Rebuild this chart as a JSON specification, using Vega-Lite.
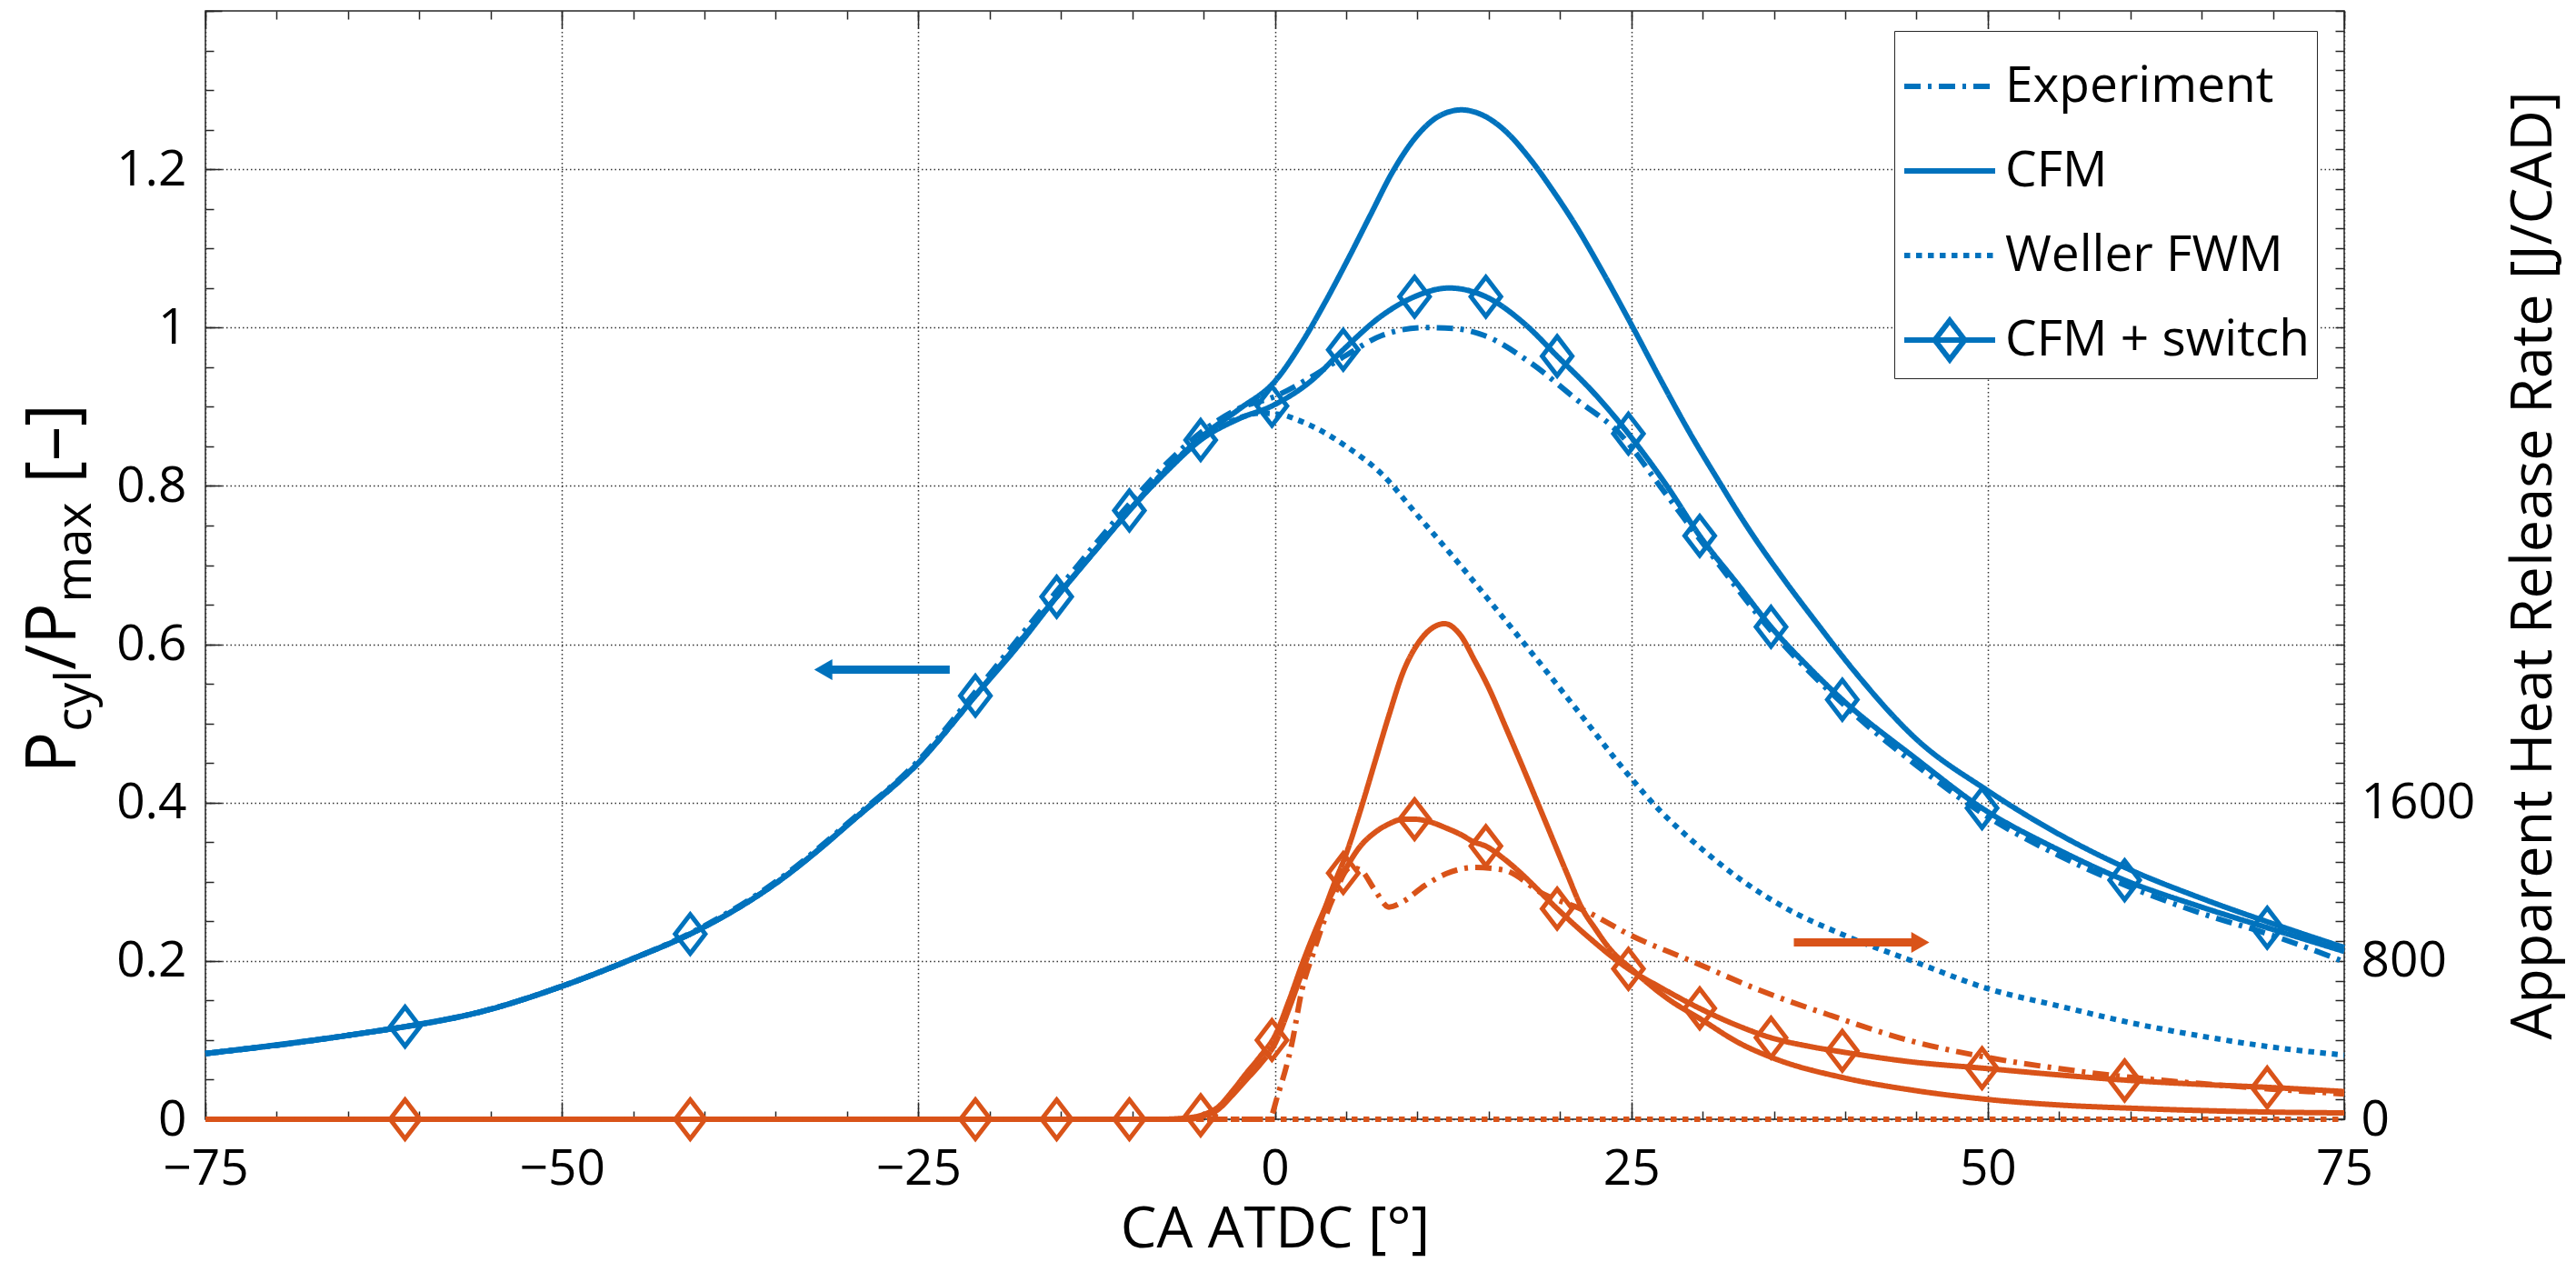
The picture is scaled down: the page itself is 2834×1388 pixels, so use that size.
{
  "$schema": "https://vega.github.io/schema/vega-lite/v6.json",
  "width": 2353,
  "height": 1219,
  "autosize": "none",
  "padding": {"left": 226, "top": 12, "right": 255, "bottom": 157},
  "background": "white",
  "config": {
    "font": "Open Sans",
    "view": {"stroke": "#262626", "strokeWidth": 1.5},
    "axis": {
      "domain": false, "tickColor": "#262626", "tickWidth": 1.5,
      "labelFont": "Open Sans", "labelFontSize": 55, "labelColor": "#000000",
      "labelOverlap": false, "labelFlush": false,
      "titleFont": "Open Sans", "titleFontSize": 63, "titleFontWeight": "normal", "titleColor": "#000000",
      "gridColor": "#333333", "gridDash": [1.5, 3], "gridWidth": 1.5
    }
  },
  "datasets": {
    "pr": [
      {"s": "CFM + switch", "ca": -75, "p": 0.083}, {"s": "CFM + switch", "ca": -70, "p": 0.094}, {"s": "CFM + switch", "ca": -65, "p": 0.106}, {"s": "CFM + switch", "ca": -61, "p": 0.117}, {"s": "CFM + switch", "ca": -55, "p": 0.139}, {"s": "CFM + switch", "ca": -50, "p": 0.168}, {"s": "CFM + switch", "ca": -45, "p": 0.203}, {"s": "CFM + switch", "ca": -41, "p": 0.234}, {"s": "CFM + switch", "ca": -38, "p": 0.263}, {"s": "CFM + switch", "ca": -35, "p": 0.298}, {"s": "CFM + switch", "ca": -32, "p": 0.34}, {"s": "CFM + switch", "ca": -29.5, "p": 0.379}, {"s": "CFM + switch", "ca": -27, "p": 0.418}, {"s": "CFM + switch", "ca": -25, "p": 0.45}, {"s": "CFM + switch", "ca": -23, "p": 0.492}, {"s": "CFM + switch", "ca": -21, "p": 0.535}, {"s": "CFM + switch", "ca": -18, "p": 0.598}, {"s": "CFM + switch", "ca": -15.3, "p": 0.66}, {"s": "CFM + switch", "ca": -12.5, "p": 0.72}, {"s": "CFM + switch", "ca": -10.2, "p": 0.769}, {"s": "CFM + switch", "ca": -7.5, "p": 0.82}, {"s": "CFM + switch", "ca": -5.2, "p": 0.858}, {"s": "CFM + switch", "ca": -2.5, "p": 0.885}, {"s": "CFM + switch", "ca": -0.2, "p": 0.901}, {"s": "CFM + switch", "ca": 2.5, "p": 0.932}, {"s": "CFM + switch", "ca": 4.8, "p": 0.972}, {"s": "CFM + switch", "ca": 7.5, "p": 1.015}, {"s": "CFM + switch", "ca": 9.8, "p": 1.039}, {"s": "CFM + switch", "ca": 12.2, "p": 1.05}, {"s": "CFM + switch", "ca": 14.8, "p": 1.039}, {"s": "CFM + switch", "ca": 17.5, "p": 1.005}, {"s": "CFM + switch", "ca": 19.8, "p": 0.964}, {"s": "CFM + switch", "ca": 22.5, "p": 0.915}, {"s": "CFM + switch", "ca": 24.8, "p": 0.866}, {"s": "CFM + switch", "ca": 27.5, "p": 0.8}, {"s": "CFM + switch", "ca": 29.8, "p": 0.737}, {"s": "CFM + switch", "ca": 32.5, "p": 0.675}, {"s": "CFM + switch", "ca": 34.8, "p": 0.622}, {"s": "CFM + switch", "ca": 37.5, "p": 0.57}, {"s": "CFM + switch", "ca": 39.8, "p": 0.53}, {"s": "CFM + switch", "ca": 45, "p": 0.455}, {"s": "CFM + switch", "ca": 49.6, "p": 0.393}, {"s": "CFM + switch", "ca": 55, "p": 0.34}, {"s": "CFM + switch", "ca": 59.6, "p": 0.302}, {"s": "CFM + switch", "ca": 65, "p": 0.268}, {"s": "CFM + switch", "ca": 69.6, "p": 0.242}, {"s": "CFM + switch", "ca": 75, "p": 0.212},
      {"s": "CFM", "ca": -75, "p": 0.083}, {"s": "CFM", "ca": -65, "p": 0.106}, {"s": "CFM", "ca": -55, "p": 0.139}, {"s": "CFM", "ca": -50, "p": 0.168}, {"s": "CFM", "ca": -45, "p": 0.203}, {"s": "CFM", "ca": -41, "p": 0.234}, {"s": "CFM", "ca": -35, "p": 0.298}, {"s": "CFM", "ca": -29.5, "p": 0.379}, {"s": "CFM", "ca": -25, "p": 0.45}, {"s": "CFM", "ca": -21, "p": 0.535}, {"s": "CFM", "ca": -15.3, "p": 0.66}, {"s": "CFM", "ca": -10.2, "p": 0.769}, {"s": "CFM", "ca": -7.5, "p": 0.822}, {"s": "CFM", "ca": -5, "p": 0.864}, {"s": "CFM", "ca": -2.5, "p": 0.897}, {"s": "CFM", "ca": 0, "p": 0.932}, {"s": "CFM", "ca": 2, "p": 0.984}, {"s": "CFM", "ca": 3.5, "p": 1.031}, {"s": "CFM", "ca": 5.15, "p": 1.087}, {"s": "CFM", "ca": 6.7, "p": 1.142}, {"s": "CFM", "ca": 8.3, "p": 1.198}, {"s": "CFM", "ca": 10, "p": 1.243}, {"s": "CFM", "ca": 11.5, "p": 1.267}, {"s": "CFM", "ca": 13.1, "p": 1.275}, {"s": "CFM", "ca": 14.5, "p": 1.269}, {"s": "CFM", "ca": 16, "p": 1.251}, {"s": "CFM", "ca": 17.9, "p": 1.213}, {"s": "CFM", "ca": 19.5, "p": 1.173}, {"s": "CFM", "ca": 21.1, "p": 1.129}, {"s": "CFM", "ca": 23, "p": 1.07}, {"s": "CFM", "ca": 25, "p": 1.004}, {"s": "CFM", "ca": 27, "p": 0.936}, {"s": "CFM", "ca": 29.2, "p": 0.864}, {"s": "CFM", "ca": 31, "p": 0.81}, {"s": "CFM", "ca": 33, "p": 0.752}, {"s": "CFM", "ca": 35.7, "p": 0.682}, {"s": "CFM", "ca": 38, "p": 0.627}, {"s": "CFM", "ca": 40.6, "p": 0.567}, {"s": "CFM", "ca": 45, "p": 0.48}, {"s": "CFM", "ca": 50, "p": 0.415}, {"s": "CFM", "ca": 55, "p": 0.36}, {"s": "CFM", "ca": 60, "p": 0.315}, {"s": "CFM", "ca": 65, "p": 0.279}, {"s": "CFM", "ca": 70, "p": 0.247}, {"s": "CFM", "ca": 75, "p": 0.217},
      {"s": "Experiment", "ca": -75, "p": 0.083}, {"s": "Experiment", "ca": -65, "p": 0.106}, {"s": "Experiment", "ca": -55, "p": 0.139}, {"s": "Experiment", "ca": -50, "p": 0.168}, {"s": "Experiment", "ca": -45, "p": 0.203}, {"s": "Experiment", "ca": -41, "p": 0.235}, {"s": "Experiment", "ca": -35, "p": 0.3}, {"s": "Experiment", "ca": -29.5, "p": 0.381}, {"s": "Experiment", "ca": -25, "p": 0.453}, {"s": "Experiment", "ca": -21, "p": 0.54}, {"s": "Experiment", "ca": -15.3, "p": 0.667}, {"s": "Experiment", "ca": -10.2, "p": 0.777}, {"s": "Experiment", "ca": -7.5, "p": 0.83}, {"s": "Experiment", "ca": -5, "p": 0.87}, {"s": "Experiment", "ca": -2.5, "p": 0.898}, {"s": "Experiment", "ca": 0, "p": 0.913}, {"s": "Experiment", "ca": 2.5, "p": 0.937}, {"s": "Experiment", "ca": 5, "p": 0.965}, {"s": "Experiment", "ca": 7.5, "p": 0.99}, {"s": "Experiment", "ca": 10.5, "p": 1.0}, {"s": "Experiment", "ca": 12.5, "p": 0.999}, {"s": "Experiment", "ca": 14.7, "p": 0.99}, {"s": "Experiment", "ca": 17.9, "p": 0.956}, {"s": "Experiment", "ca": 21.1, "p": 0.91}, {"s": "Experiment", "ca": 24.3, "p": 0.864}, {"s": "Experiment", "ca": 27, "p": 0.8}, {"s": "Experiment", "ca": 30, "p": 0.728}, {"s": "Experiment", "ca": 35, "p": 0.613}, {"s": "Experiment", "ca": 40, "p": 0.522}, {"s": "Experiment", "ca": 45, "p": 0.447}, {"s": "Experiment", "ca": 50, "p": 0.382}, {"s": "Experiment", "ca": 55, "p": 0.333}, {"s": "Experiment", "ca": 60, "p": 0.293}, {"s": "Experiment", "ca": 65, "p": 0.26}, {"s": "Experiment", "ca": 70, "p": 0.232}, {"s": "Experiment", "ca": 75, "p": 0.199},
      {"s": "Weller FWM", "ca": -75, "p": 0.083}, {"s": "Weller FWM", "ca": -65, "p": 0.106}, {"s": "Weller FWM", "ca": -55, "p": 0.139}, {"s": "Weller FWM", "ca": -50, "p": 0.168}, {"s": "Weller FWM", "ca": -45, "p": 0.203}, {"s": "Weller FWM", "ca": -41, "p": 0.234}, {"s": "Weller FWM", "ca": -35, "p": 0.298}, {"s": "Weller FWM", "ca": -29.5, "p": 0.379}, {"s": "Weller FWM", "ca": -25, "p": 0.45}, {"s": "Weller FWM", "ca": -21, "p": 0.535}, {"s": "Weller FWM", "ca": -15.3, "p": 0.66}, {"s": "Weller FWM", "ca": -10.2, "p": 0.769}, {"s": "Weller FWM", "ca": -7.5, "p": 0.823}, {"s": "Weller FWM", "ca": -5, "p": 0.862}, {"s": "Weller FWM", "ca": -3, "p": 0.882}, {"s": "Weller FWM", "ca": -1, "p": 0.892}, {"s": "Weller FWM", "ca": 0.5, "p": 0.89}, {"s": "Weller FWM", "ca": 1.5, "p": 0.884}, {"s": "Weller FWM", "ca": 3, "p": 0.872}, {"s": "Weller FWM", "ca": 5, "p": 0.85}, {"s": "Weller FWM", "ca": 7.5, "p": 0.815}, {"s": "Weller FWM", "ca": 10, "p": 0.763}, {"s": "Weller FWM", "ca": 13, "p": 0.7}, {"s": "Weller FWM", "ca": 15.5, "p": 0.645}, {"s": "Weller FWM", "ca": 18.2, "p": 0.585}, {"s": "Weller FWM", "ca": 21.5, "p": 0.51}, {"s": "Weller FWM", "ca": 24.7, "p": 0.437}, {"s": "Weller FWM", "ca": 27, "p": 0.39}, {"s": "Weller FWM", "ca": 29.2, "p": 0.353}, {"s": "Weller FWM", "ca": 32.5, "p": 0.305}, {"s": "Weller FWM", "ca": 35.7, "p": 0.268}, {"s": "Weller FWM", "ca": 40, "p": 0.232}, {"s": "Weller FWM", "ca": 45, "p": 0.198}, {"s": "Weller FWM", "ca": 50, "p": 0.165}, {"s": "Weller FWM", "ca": 55, "p": 0.143}, {"s": "Weller FWM", "ca": 60, "p": 0.122}, {"s": "Weller FWM", "ca": 65, "p": 0.105}, {"s": "Weller FWM", "ca": 70, "p": 0.091}, {"s": "Weller FWM", "ca": 75, "p": 0.081}
    ],
    "hr": [
      {"s": "Experiment", "ca": -75, "q": 0}, {"s": "Experiment", "ca": -0.4, "q": 0}, {"s": "Experiment", "ca": 0.2, "q": 120}, {"s": "Experiment", "ca": 1.2, "q": 384}, {"s": "Experiment", "ca": 1.9, "q": 652}, {"s": "Experiment", "ca": 2.7, "q": 840}, {"s": "Experiment", "ca": 4.1, "q": 1120}, {"s": "Experiment", "ca": 5.3, "q": 1272}, {"s": "Experiment", "ca": 6, "q": 1260}, {"s": "Experiment", "ca": 7, "q": 1160}, {"s": "Experiment", "ca": 8, "q": 1072}, {"s": "Experiment", "ca": 9, "q": 1100}, {"s": "Experiment", "ca": 10.5, "q": 1180}, {"s": "Experiment", "ca": 12, "q": 1240}, {"s": "Experiment", "ca": 14, "q": 1272}, {"s": "Experiment", "ca": 16, "q": 1260}, {"s": "Experiment", "ca": 18.8, "q": 1140}, {"s": "Experiment", "ca": 21.8, "q": 1052}, {"s": "Experiment", "ca": 25, "q": 928}, {"s": "Experiment", "ca": 29.2, "q": 800}, {"s": "Experiment", "ca": 34, "q": 652}, {"s": "Experiment", "ca": 39, "q": 524}, {"s": "Experiment", "ca": 44.4, "q": 400}, {"s": "Experiment", "ca": 50, "q": 312}, {"s": "Experiment", "ca": 55, "q": 256}, {"s": "Experiment", "ca": 60, "q": 212}, {"s": "Experiment", "ca": 65, "q": 180}, {"s": "Experiment", "ca": 70, "q": 152}, {"s": "Experiment", "ca": 75, "q": 128},
      {"s": "CFM", "ca": -75, "q": 0}, {"s": "CFM", "ca": -6, "q": 0}, {"s": "CFM", "ca": -5, "q": 16}, {"s": "CFM", "ca": -4, "q": 48}, {"s": "CFM", "ca": -3, "q": 120}, {"s": "CFM", "ca": -2, "q": 200}, {"s": "CFM", "ca": -1, "q": 280}, {"s": "CFM", "ca": 0, "q": 380}, {"s": "CFM", "ca": 1, "q": 560}, {"s": "CFM", "ca": 2, "q": 760}, {"s": "CFM", "ca": 3, "q": 960}, {"s": "CFM", "ca": 4, "q": 1160}, {"s": "CFM", "ca": 5, "q": 1340}, {"s": "CFM", "ca": 6, "q": 1560}, {"s": "CFM", "ca": 7, "q": 1800}, {"s": "CFM", "ca": 8, "q": 2040}, {"s": "CFM", "ca": 9, "q": 2260}, {"s": "CFM", "ca": 10, "q": 2400}, {"s": "CFM", "ca": 11, "q": 2480}, {"s": "CFM", "ca": 11.9, "q": 2504}, {"s": "CFM", "ca": 13, "q": 2448}, {"s": "CFM", "ca": 14, "q": 2320}, {"s": "CFM", "ca": 15, "q": 2180}, {"s": "CFM", "ca": 16.2, "q": 1980}, {"s": "CFM", "ca": 17.5, "q": 1760}, {"s": "CFM", "ca": 19, "q": 1500}, {"s": "CFM", "ca": 20.5, "q": 1240}, {"s": "CFM", "ca": 21.5, "q": 1072}, {"s": "CFM", "ca": 22.5, "q": 960}, {"s": "CFM", "ca": 23.5, "q": 860}, {"s": "CFM", "ca": 25, "q": 760}, {"s": "CFM", "ca": 27.5, "q": 612}, {"s": "CFM", "ca": 30, "q": 500}, {"s": "CFM", "ca": 32.5, "q": 388}, {"s": "CFM", "ca": 35, "q": 308}, {"s": "CFM", "ca": 40, "q": 208}, {"s": "CFM", "ca": 45, "q": 144}, {"s": "CFM", "ca": 50, "q": 100}, {"s": "CFM", "ca": 55, "q": 72}, {"s": "CFM", "ca": 60, "q": 56}, {"s": "CFM", "ca": 65, "q": 44}, {"s": "CFM", "ca": 70, "q": 36}, {"s": "CFM", "ca": 75, "q": 32},
      {"s": "CFM + switch", "ca": -75, "q": 0}, {"s": "CFM + switch", "ca": -8, "q": 0}, {"s": "CFM + switch", "ca": -6, "q": 8}, {"s": "CFM + switch", "ca": -5, "q": 24}, {"s": "CFM + switch", "ca": -4, "q": 60}, {"s": "CFM + switch", "ca": -3, "q": 140}, {"s": "CFM + switch", "ca": -2, "q": 232}, {"s": "CFM + switch", "ca": -1, "q": 320}, {"s": "CFM + switch", "ca": 0, "q": 420}, {"s": "CFM + switch", "ca": 1, "q": 600}, {"s": "CFM + switch", "ca": 2, "q": 800}, {"s": "CFM + switch", "ca": 3, "q": 980}, {"s": "CFM + switch", "ca": 4, "q": 1140}, {"s": "CFM + switch", "ca": 4.8, "q": 1244}, {"s": "CFM + switch", "ca": 6, "q": 1380}, {"s": "CFM + switch", "ca": 7, "q": 1448}, {"s": "CFM + switch", "ca": 8, "q": 1492}, {"s": "CFM + switch", "ca": 9, "q": 1516}, {"s": "CFM + switch", "ca": 9.8, "q": 1516}, {"s": "CFM + switch", "ca": 11, "q": 1500}, {"s": "CFM + switch", "ca": 12, "q": 1472}, {"s": "CFM + switch", "ca": 13, "q": 1440}, {"s": "CFM + switch", "ca": 14, "q": 1400}, {"s": "CFM + switch", "ca": 14.8, "q": 1380}, {"s": "CFM + switch", "ca": 16, "q": 1320}, {"s": "CFM + switch", "ca": 17, "q": 1260}, {"s": "CFM + switch", "ca": 18, "q": 1192}, {"s": "CFM + switch", "ca": 19, "q": 1120}, {"s": "CFM + switch", "ca": 19.8, "q": 1064}, {"s": "CFM + switch", "ca": 22, "q": 920}, {"s": "CFM + switch", "ca": 24.8, "q": 760}, {"s": "CFM + switch", "ca": 27, "q": 668}, {"s": "CFM + switch", "ca": 29.8, "q": 560}, {"s": "CFM + switch", "ca": 32.5, "q": 472}, {"s": "CFM + switch", "ca": 34.8, "q": 412}, {"s": "CFM + switch", "ca": 37.5, "q": 368}, {"s": "CFM + switch", "ca": 39.8, "q": 340}, {"s": "CFM + switch", "ca": 44.4, "q": 292}, {"s": "CFM + switch", "ca": 50, "q": 256}, {"s": "CFM + switch", "ca": 55, "q": 224}, {"s": "CFM + switch", "ca": 60, "q": 196}, {"s": "CFM + switch", "ca": 65, "q": 176}, {"s": "CFM + switch", "ca": 70, "q": 160}, {"s": "CFM + switch", "ca": 75, "q": 140},
      {"s": "Weller FWM", "ca": -75, "q": 0}, {"s": "Weller FWM", "ca": 75, "q": 0}
    ],
    "mk": [
      {"ca": -61, "p": 0.117, "q": 0}, {"ca": -41, "p": 0.234, "q": 0}, {"ca": -21, "p": 0.535, "q": 0}, {"ca": -15.3, "p": 0.66, "q": 0}, {"ca": -10.2, "p": 0.769, "q": 0}, {"ca": -5.2, "p": 0.858, "q": 20}, {"ca": -0.2, "p": 0.901, "q": 400}, {"ca": 4.8, "p": 0.972, "q": 1244}, {"ca": 9.8, "p": 1.039, "q": 1516}, {"ca": 14.8, "p": 1.039, "q": 1380}, {"ca": 19.8, "p": 0.964, "q": 1064}, {"ca": 24.8, "p": 0.866, "q": 760}, {"ca": 29.8, "p": 0.737, "q": 560}, {"ca": 34.8, "p": 0.622, "q": 412}, {"ca": 39.8, "p": 0.53, "q": 346}, {"ca": 49.6, "p": 0.393, "q": 258}, {"ca": 59.6, "p": 0.302, "q": 196}, {"ca": 69.6, "p": 0.242, "q": 160}
    ],
    "arrows": [
      {"side": "p", "start": -22.8, "end": -31.67, "head": -31.67, "level": 0.568},
      {"side": "q", "start": 36.4, "end": 45.27, "head": 45.27, "level": 894}
    ],
    "anchor": [{"ca": 0, "v": 0}]
  },
  "layer": [
    {
      "layer": [
        {
          "data": {"name": "pr"},
          "mark": {"type": "line", "color": "#0072BD", "strokeWidth": 6, "interpolate": "monotone"},
          "encoding": {
            "x": {"field": "ca", "type": "quantitative", "scale": {"domain": [-75, 75], "nice": false},
              "axis": {"orient": "bottom", "title": "CA ATDC [°]", "titlePadding": 8, "labelPadding": 28, "tickSize": 0,
                "values": [-75, -50, -25, 0, 25, 50, 75], "labelExpr": "format(datum.value, 'd')", "grid": true}},
            "y": {"field": "p", "type": "quantitative", "scale": {"domain": [0, 1.4], "nice": false},
              "axis": {"orient": "left", "title": null, "labelPadding": 21, "tickSize": 0,
                "values": [0, 0.2, 0.4, 0.6, 0.8, 1, 1.2],
                "labelExpr": "format(datum.value, '~g')", "grid": true}},
            "strokeDash": {"field": "s", "type": "nominal",
              "scale": {"domain": ["Experiment", "CFM", "Weller FWM", "CFM + switch"], "range": [[18, 8, 4, 8], [1, 0], [6.5, 6.5], [1, 0]]},
              "legend": {"title": null, "orient": "none", "legendX": 1858, "legendY": 22,
                "strokeColor": "#262626", "fillColor": "white", "padding": 8, "rowPadding": 12,
                "symbolType": "stroke", "symbolSize": 10000, "symbolStrokeWidth": 6, "symbolStrokeColor": "#0072BD",
                "labelFont": "Open Sans", "labelFontSize": 55, "labelColor": "#000000", "labelLimit": 0, "labelOffset": 8,
                "encode": {"symbols": {"update": {
                  "shape": {"signal": "datum.value === 'CFM + switch' ? 'M-1,0L1,0M0,-0.43L0.33,0L0,0.43L-0.33,0Z' : 'stroke'"},
                  "stroke": {"value": "#0072BD"}, "strokeWidth": {"value": 6}, "fill": {"value": "transparent"}}}}}}
          }
        },
        {
          "data": {"name": "mk"},
          "mark": {"type": "point", "shape": "M0,-1L0.767,0L0,1L-0.767,0Z", "size": 1849, "strokeWidth": 5, "color": "#0072BD", "filled": false, "opacity": 1},
          "encoding": {"x": {"field": "ca", "type": "quantitative"}, "y": {"field": "p", "type": "quantitative"}}
        },
        {
          "data": {"name": "arrows"},
          "transform": [{"filter": "datum.side === 'p'"}],
          "mark": {"type": "rule", "color": "#0072BD", "strokeWidth": 9},
          "encoding": {"x": {"field": "start", "type": "quantitative"}, "x2": {"field": "end"}, "y": {"field": "level", "type": "quantitative"}}
        },
        {
          "data": {"name": "arrows"},
          "transform": [{"filter": "datum.side === 'p'"}],
          "mark": {"type": "point", "shape": "triangle-left", "size": 529, "color": "#0072BD", "filled": true, "opacity": 1},
          "encoding": {"x": {"field": "head", "type": "quantitative"}, "y": {"field": "level", "type": "quantitative"}}
        }
      ]
    },
    {
      "layer": [
        {
          "data": {"name": "hr"},
          "mark": {"type": "line", "color": "#D95319", "strokeWidth": 6, "interpolate": "monotone"},
          "encoding": {
            "x": {"field": "ca", "type": "quantitative", "scale": {"domain": [-75, 75], "nice": false},
              "axis": {"orient": "top", "title": null, "labels": false, "grid": false, "tickSize": -9,
                "values": [-75,-70,-65,-60,-55,-50,-45,-40,-35,-30,-25,-20,-15,-10,-5,0,5,10,15,20,25,30,35,40,45,50,55,60,65,70,75]}},
            "y": {"field": "q", "type": "quantitative", "scale": {"domain": [0, 5600], "nice": false},
              "axis": {"orient": "right", "title": "Apparent Heat Release Rate [J/CAD]", "titleAngle": 270, "titleBaseline": "top", "titlePadding": 34, "labelPadding": 18, "tickSize": 0,
                "grid": false, "values": [0, 800, 1600], "labelExpr": "format(datum.value, 'd')"}},
            "strokeDash": {"field": "s", "type": "nominal"}
          }
        },
        {
          "data": {"name": "mk"},
          "mark": {"type": "point", "shape": "M0,-1L0.767,0L0,1L-0.767,0Z", "size": 1849, "strokeWidth": 5, "color": "#D95319", "filled": false, "opacity": 1},
          "encoding": {"x": {"field": "ca", "type": "quantitative"}, "y": {"field": "q", "type": "quantitative"}}
        },
        {
          "data": {"name": "arrows"},
          "transform": [{"filter": "datum.side === 'q'"}],
          "mark": {"type": "rule", "color": "#D95319", "strokeWidth": 9},
          "encoding": {"x": {"field": "start", "type": "quantitative"}, "x2": {"field": "end"}, "y": {"field": "level", "type": "quantitative"}}
        },
        {
          "data": {"name": "arrows"},
          "transform": [{"filter": "datum.side === 'q'"}],
          "mark": {"type": "point", "shape": "triangle-right", "size": 529, "color": "#D95319", "filled": true, "opacity": 1},
          "encoding": {"x": {"field": "head", "type": "quantitative"}, "y": {"field": "level", "type": "quantitative"}}
        }
      ]
    },
    {
      "data": {"name": "anchor"},
      "mark": {"type": "point", "opacity": 0},
      "encoding": {
        "x": {"field": "ca", "type": "quantitative", "scale": {"domain": [-75, 75], "nice": false},
          "axis": {"orient": "bottom", "labels": false, "grid": false, "tickSize": -9,
            "title": "/P", "titleFontSize": 76, "titleAngle": 270, "titleAlign": "left", "titleBaseline": "alphabetic", "titleX": -144, "titleY": -494.7,
            "values": [-75,-70,-65,-60,-55,-50,-45,-40,-35,-30,-25,-20,-15,-10,-5,0,5,10,15,20,25,30,35,40,45,50,55,60,65,70,75]}},
        "y": {"field": "v", "type": "quantitative", "scale": {"domain": [0, 1.4], "nice": false},
          "axis": {"orient": "left", "labels": false, "grid": false, "tickSize": -9,
            "title": "P", "titleFontSize": 76, "titleAngle": 270, "titleAlign": "left", "titleBaseline": "alphabetic", "titleX": -144, "titleY": 838,
            "values": [0,0.05,0.1,0.15,0.2,0.25,0.3,0.35,0.4,0.45,0.5,0.55,0.6,0.65,0.7,0.75,0.8,0.85,0.9,0.95,1,1.05,1.1,1.15,1.2,1.25,1.3,1.35,1.4]}}
      }
    },
    {
      "data": {"name": "anchor"},
      "mark": {"type": "point", "opacity": 0},
      "encoding": {
        "x": {"field": "ca", "type": "quantitative", "scale": {"domain": [-75, 75], "nice": false},
          "axis": {"orient": "bottom", "labels": false, "grid": false, "tickSize": -19,
            "title": "max", "titleFontSize": 55, "titleAngle": 270, "titleAlign": "left", "titleBaseline": "alphabetic", "titleX": -127, "titleY": -568.7,
            "values": [-75, -50, -25, 0, 25, 50, 75]}},
        "y": {"field": "v", "type": "quantitative", "scale": {"domain": [0, 1.4], "nice": false},
          "axis": {"orient": "left", "labels": false, "grid": false, "tickSize": -18,
            "title": "cyl", "titleFontSize": 55, "titleAngle": 270, "titleAlign": "left", "titleBaseline": "alphabetic", "titleX": -127, "titleY": 792.2,
            "values": [0, 0.2, 0.4, 0.6, 0.8, 1, 1.2, 1.4]}}
      }
    },
    {
      "data": {"name": "anchor"},
      "mark": {"type": "point", "opacity": 0},
      "encoding": {
        "x": {"field": "ca", "type": "quantitative", "scale": {"domain": [-75, 75], "nice": false},
          "axis": {"orient": "top", "labels": false, "grid": false, "tickSize": -19,
            "title": "[–]", "titleFontSize": 76, "titleAngle": 270, "titleAlign": "left", "titleBaseline": "alphabetic", "titleX": -144, "titleY": 519.3,
            "values": [-75, -50, -25, 0, 25, 50, 75]}},
        "y": {"field": "v", "type": "quantitative", "scale": {"domain": [0, 5600], "nice": false},
          "axis": {"orient": "right", "title": null, "labels": false, "grid": false, "tickSize": -10,
            "values": [0,100,200,300,400,500,600,700,800,900,1000,1100,1200,1300,1400,1500,1600,1700,1800,1900,2000,2100,2200,2300,2400,2500,2600,2700,2800,2900,3000,3100,3200,3300,3400,3500,3600,3700,3800,3900,4000,4100,4200,4300,4400,4500,4600,4700,4800,4900,5000,5100,5200,5300,5400,5500,5600]}}
      }
    }
  ],
  "resolve": {"scale": {"y": "independent"}, "axis": {"x": "independent", "y": "independent"}}
}
